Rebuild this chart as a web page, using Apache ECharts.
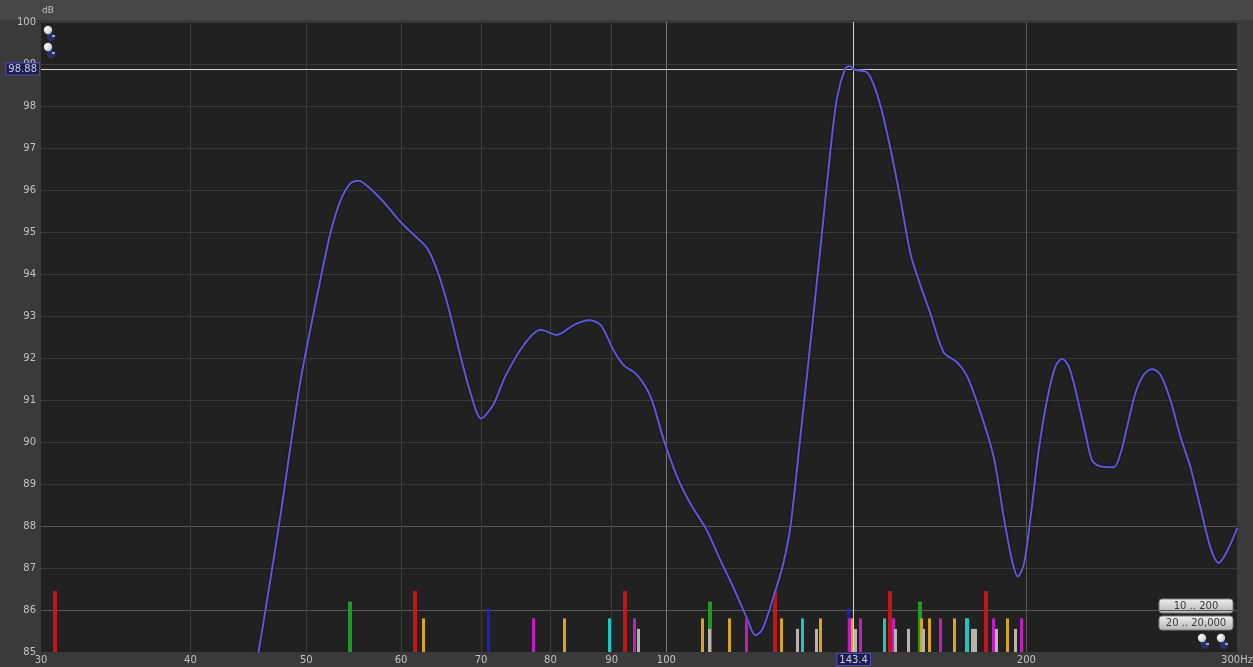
<!DOCTYPE html>
<html>
<head>
<meta charset="utf-8">
<script src="https://cdn.jsdelivr.net/npm/echarts@6/dist/echarts.min.js"></script>
<style>
  html, body { margin: 0; padding: 0; background: #3a3a3a; }
  #chart { width: 1253px; height: 667px; }
</style>
</head>
<body>
<div id="chart"></div>
<script>
// Measured in-room response (SPL, dB) against frequency (Hz)
const freqHz = [44.5, 45.6, 46.7, 47.6, 48.5, 49.4, 50.4, 51.4, 52.4, 53.4, 54.4, 55.3, 56.2, 58.0, 59.9,
  61.5, 63.1, 64.3, 65.6, 67.3, 68.6, 70.0, 71.7, 73.3, 76.0, 78.5, 81.0, 83.7, 86.1, 88.1, 90.3, 92.1,
  94.5, 97.0, 99.5, 102.1, 104.7, 108.1, 110.9, 113.8, 116.8, 118.7, 120.3, 122.8, 125.1, 127.0,
  129.4, 131.9, 134.5, 137.1, 138.9, 141.1, 142.3, 143.4, 144.4, 147.2, 149.0, 151.5, 153.9, 156.9,
  160.0, 163.1, 166.2, 170.6, 175.0, 178.4, 183.1, 187.8, 191.5, 194.6, 196.7, 199.0, 201.6, 204.8,
  208.1, 211.5, 214.2, 217.0, 220.5, 224.1, 227.0, 230.6, 236.6, 239.7, 242.8, 246.7, 250.7, 254.8,
  258.9, 263.9, 269.1, 274.3, 279.6, 285.1, 289.7, 294.3, 299.1, 300];
const levelDb = [83.4, 85.0, 86.8, 88.3, 89.9, 91.4, 92.7, 93.9, 95.0, 95.75, 96.15, 96.22, 96.1, 95.72, 95.25,
  94.93, 94.61, 94.1, 93.3, 92.03, 91.16, 90.56, 90.9, 91.55, 92.31, 92.67, 92.55, 92.79, 92.9, 92.79, 92.19, 91.83,
  91.6, 91.08, 90.05, 89.17, 88.54, 87.9, 87.2, 86.53, 85.8, 85.4, 85.54, 86.28, 87.05, 88.0,
  90.1, 92.3, 94.6, 96.9, 98.2, 98.89, 98.95, 98.88, 98.85, 98.8, 98.52, 97.86, 97.0, 95.8,
  94.48, 93.73, 93.07, 92.13, 91.9, 91.57, 90.7, 89.64, 88.2, 87.16, 86.8, 87.08, 88.2, 89.8,
  91.0, 91.8, 91.98, 91.8, 91.08, 90.2, 89.56, 89.42, 89.4, 89.72, 90.36, 91.16, 91.6, 91.74,
  91.6, 91.0, 90.12, 89.4, 88.44, 87.48, 87.12, 87.4, 87.84, 87.95];

// Room mode frequencies (Hz), grouped by mode type
const axialLengthHz = [30.8, 61.6, 92.4, 123.2, 153.9, 184.9];
const axialWidthHz = [54.4, 108.8, 163.1];
const axialHeightHz = [71.0, 142.0];
const tangLengthWidthHz = [62.6, 82.2, 107.3, 113.0, 124.9, 134.6, 142.8, 163.4, 166.0, 174.3, 192.7];
const tangLengthHeightHz = [77.4, 94.1, 116.6, 142.3, 145.4, 154.9, 169.5, 187.8, 198.0];
const tangWidthHeightHz = [89.6, 130.0, 152.1, 178.2, 178.7];
const obliqueHz = [94.7, 108.6, 128.6, 133.5, 143.9, 155.3, 159.3, 164.0, 180.4, 181.5, 188.8, 195.8];
// Marker top level (dB) for each mode group, in the order above
const modeTopDb = [86.45, 86.2, 86.05, 85.8, 85.8, 85.8, 85.55];

// Axis ticks
const xTickHz = [30, 40, 50, 60, 70, 80, 90, 100, 200, 300];
const xTickLabels = ['30', '40', '50', '60', '70', '80', '90', '100', '200', '300Hz'];
const yMinDb = 85, yMaxDb = 100, yStepDb = 1;

// Cursor readout
const cursorHz = 143.4;
const cursorDb = 98.88;

const chart = echarts.init(document.getElementById('chart'), null, { renderer: 'canvas' });
const FONT = 'DejaVu Sans';

function modeSeries(name, freqs, top, color, width) {
  return {
    name: name,
    type: 'custom',
    z: 3,
    silent: true,
    data: freqs.map(f => [f, top]),
    renderItem: function (params, api) {
      const p = api.coord([api.value(0), api.value(1)]);
      const b = api.coord([api.value(0), yMinDb]);
      return {
        type: 'rect',
        shape: { x: Math.round(p[0] - width / 2), y: p[1], width: width, height: b[1] - p[1] },
        style: { fill: color }
      };
    }
  };
}

function yGridColor(v) {
  return (v === 86 || v === 88) ? '#5a5a5a' : '#383838';
}
const yLineColors = [];
for (let v = yMinDb; v <= yMaxDb; v += yStepDb) yLineColors.push(yGridColor(v));

function xGridColor(hz) {
  if (hz === 30 || hz === 300) return 'rgba(0,0,0,0)';
  if (hz === 100) return '#777777';
  if (hz === 200) return '#575757';
  return '#3d3d3d';
}

function icon(cx, cy) {
  return {
    type: 'group', x: cx, y: cy, children: [
      { type: 'circle', shape: { cx: 3, cy: 7, r: 4 }, style: { fill: '#2c2f6a' } },
      { type: 'circle', shape: { cx: 0, cy: 0, r: 4.2 },
        style: { fill: new echarts.graphic.RadialGradient(0.35, 0.35, 0.8, [
          { offset: 0, color: '#ffffff' }, { offset: 1, color: '#b8b8c8' }]) } },
      { type: 'rect', shape: { x: 4, y: 5, width: 3, height: 2 }, style: { fill: '#9aa0d0' } }
    ]
  };
}

function button(x, y, label) {
  return {
    type: 'group', x: x, y: y, children: [
      { type: 'rect', shape: { x: 0, y: 0, width: 74, height: 14, r: 3 },
        style: { fill: new echarts.graphic.LinearGradient(0, 0, 0, 1, [
          { offset: 0, color: '#f0f0f0' }, { offset: 1, color: '#b4b4b4' }]),
          stroke: '#7c7c7c', lineWidth: 1 } },
      { type: 'text', style: { text: label, x: 37, y: 7.5, align: 'center', verticalAlign: 'middle',
          fill: '#3a3a3a', font: '10px ' + FONT } }
    ]
  };
}

const option = {
  backgroundColor: '#3a3a3a',
  animation: false,
  grid: { left: 41, right: 16, top: 22, bottom: 15, show: true, backgroundColor: '#212121', borderWidth: 0 },
  xAxis: {
    type: 'log', logBase: 10, min: 30, max: 300,
    axisLine: { show: false }, axisTick: { show: false }, axisLabel: { show: false },
    splitLine: { show: false }, minorSplitLine: { show: false }
  },
  yAxis: {
    type: 'value', min: yMinDb, max: yMaxDb, interval: yStepDb,
    axisLine: { show: false }, axisTick: { show: false },
    axisLabel: { color: '#c2c2c2', fontSize: 10, fontFamily: FONT, margin: 5 },
    splitLine: { show: true, lineStyle: { color: yLineColors, width: 1 } }
  },
  graphic: [
    { type: 'rect', z: -1, shape: { x: 0, y: 0, width: 1253, height: 20 }, style: { fill: '#474747' } },
    { type: 'text', style: { text: 'dB', x: 48, y: 11, align: 'center', verticalAlign: 'middle',
        fill: '#c2c2c2', font: '9px ' + FONT } },
    icon(48, 30), icon(48, 47),
    button(1159, 599, '10 .. 200'),
    button(1159, 616, '20 .. 20,000'),
    icon(1202, 638), icon(1221, 638)
  ],
  series: [
    {
      name: 'grid', type: 'line', data: [], z: 1, silent: true,
      markLine: {
        silent: true, symbol: ['none', 'none'], animation: false,
        label: { show: true, position: 'start', color: '#c2c2c2', fontSize: 10, fontFamily: FONT, distance: 3 },
        data: xTickHz.map((hz, i) => ({
          xAxis: hz,
          lineStyle: { color: xGridColor(hz), width: 1, type: 'solid' },
          label: { formatter: xTickLabels[i] }
        }))
      }
    },
    modeSeries('Axial L', axialLengthHz, modeTopDb[0], '#c0161c', 4),
    modeSeries('Axial W', axialWidthHz, modeTopDb[1], '#1f9a22', 4),
    modeSeries('Axial H', axialHeightHz, modeTopDb[2], '#1c1ce0', 3),
    modeSeries('Tangential LW', tangLengthWidthHz, modeTopDb[3], '#d8a41c', 3),
    modeSeries('Tangential LH', tangLengthHeightHz, modeTopDb[4], '#c21cc4', 3),
    modeSeries('Tangential WH', tangWidthHeightHz, modeTopDb[5], '#1ec6c2', 3),
    modeSeries('Oblique', obliqueHz, modeTopDb[6], '#b9b4ae', 3),
    {
      name: 'Response', type: 'line', z: 5, silent: true,
      data: freqHz.map((f, i) => [f, levelDb[i]]),
      smooth: 0.3, showSymbol: false, clip: true,
      lineStyle: { color: '#5e57da', width: 2, shadowColor: 'rgba(0,0,0,0.7)', shadowBlur: 2 },
      markLine: {
        silent: true, symbol: ['none', 'none'], animation: false,
        lineStyle: { color: '#d4d4d4', width: 1, type: 'solid' },
        label: {
          show: true, position: 'start', color: '#c8c8ff', fontSize: 10, fontFamily: FONT,
          backgroundColor: '#1e1e44', borderColor: '#4c4cc8', borderWidth: 1, padding: [1, 2, 0, 2], distance: 2
        },
        data: [
          { xAxis: cursorHz, label: { formatter: String(cursorHz) } },
          { yAxis: cursorDb, label: { formatter: String(cursorDb) } }
        ]
      }
    }
  ]
};
chart.setOption(option);
</script>
</body>
</html>
